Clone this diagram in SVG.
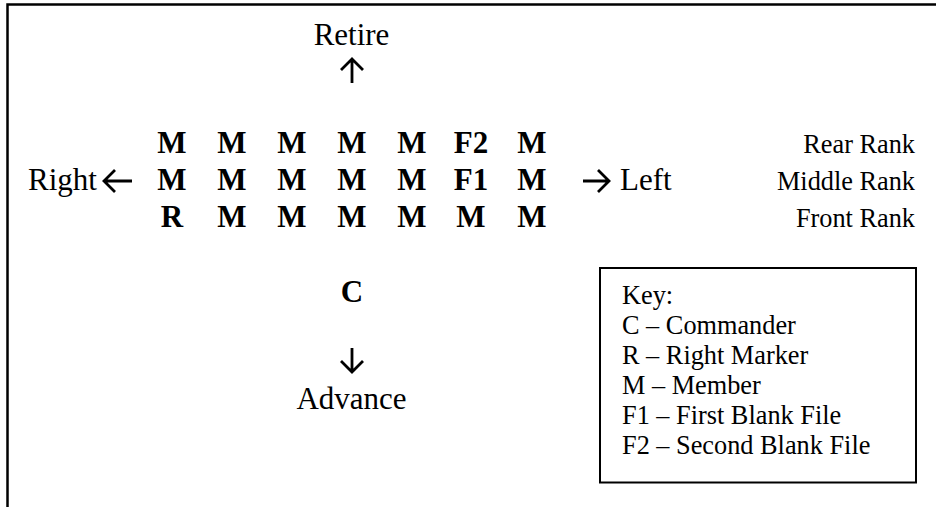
<svg xmlns="http://www.w3.org/2000/svg" width="936" height="507" viewBox="0 0 936 507">
<style>
.lbl{font-family:"Liberation Serif","Times New Roman",serif;font-size:31px;fill:#000}
.m{font-family:"Liberation Serif","Times New Roman",serif;font-size:31px;font-weight:bold;fill:#000;text-anchor:middle}
.rk{font-family:"Liberation Serif","Times New Roman",serif;font-size:26.3px;fill:#000;text-anchor:end}
.key{font-family:"Liberation Serif","Times New Roman",serif;font-size:26.3px;fill:#000}
.arr{fill:none;stroke:#000;stroke-width:2.8;stroke-linecap:butt;stroke-linejoin:miter}
.frame{fill:none;stroke:#000;stroke-width:2.5}
</style>
<rect width="936" height="507" fill="#fff"/>
<g id="frame">
<path class="frame" d="M7.5,507 V4.5 H936"/>
</g>
<g id="retire"><text class="lbl" x="351.5" y="45" text-anchor="middle">Retire</text></g>
<g id="advance"><text class="lbl" x="351.5" y="409" text-anchor="middle">Advance</text></g>
<g id="right"><text class="lbl" x="28" y="190">Right</text></g>
<g id="left"><text class="lbl" x="620" y="190">Left</text></g>
<g id="commander"><text class="m" x="352" y="302">C</text></g>
<g id="grid">
<g id="rear-rank">
<text class="m" x="172" y="153">M</text><text class="m" x="232" y="153">M</text><text class="m" x="292" y="153">M</text><text class="m" x="352" y="153">M</text><text class="m" x="412" y="153">M</text><text class="m" x="471" y="153">F2</text><text class="m" x="532" y="153">M</text>
</g>
<g id="middle-rank">
<text class="m" x="172" y="190">M</text><text class="m" x="232" y="190">M</text><text class="m" x="292" y="190">M</text><text class="m" x="352" y="190">M</text><text class="m" x="412" y="190">M</text><text class="m" x="471" y="190">F1</text><text class="m" x="532" y="190">M</text>
</g>
<g id="front-rank">
<text class="m" x="172" y="227">R</text><text class="m" x="232" y="227">M</text><text class="m" x="292" y="227">M</text><text class="m" x="352" y="227">M</text><text class="m" x="412" y="227">M</text><text class="m" x="471" y="227">M</text><text class="m" x="532" y="227">M</text>
</g>
</g>
<g id="rank-labels">
<text class="rk" x="915" y="153">Rear Rank</text>
<text class="rk" x="915" y="190">Middle Rank</text>
<text class="rk" x="915" y="227">Front Rank</text>
</g>
<g id="connectors">
<path class="arr" d="M352,83 V59 M341,70 L352,59 L363,70"/>
<path class="arr" d="M352,348 V372 M341,361 L352,372 L363,361"/>
<path class="arr" d="M132,181 H104 M115,170 L104,181 L115,192"/>
<path class="arr" d="M583,181 H609 M598,170 L609,181 L598,192"/>
</g>
<g id="key">
<rect x="600" y="268" width="316" height="214.5" fill="none" stroke="#000" stroke-width="2"/>
<text class="key" x="622" y="304">Key:</text>
<text class="key" x="622" y="334">C – Commander</text>
<text class="key" x="622" y="364">R – Right Marker</text>
<text class="key" x="622" y="394">M – Member</text>
<text class="key" x="622" y="424">F1 – First Blank File</text>
<text class="key" x="622" y="454">F2 – Second Blank File</text>
</g>
</svg>
